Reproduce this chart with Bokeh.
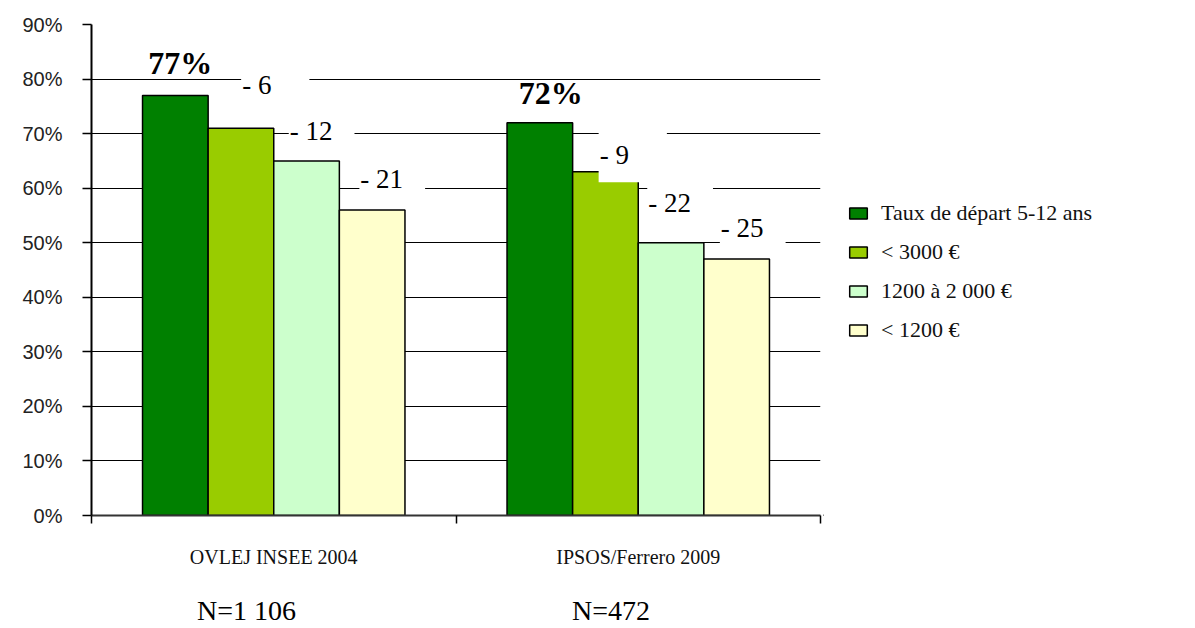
from bokeh.plotting import figure
from bokeh.layouts import row
from bokeh.models import (Range1d, FixedTicker, ColumnDataSource, Label, Legend,
                          LegendItem, PrintfTickFormatter, LinearAxis)
from bokeh.embed import file_html
from bokeh.resources import INLINE

# ---------------- data ----------------
categories = ["OVLEJ INSEE 2004", "IPSOS/Ferrero 2009"]
sample_sizes = ["N=1 106", "N=472"]
series = ["Taux de départ 5-12 ans", "< 3000 €", "1200 à 2 000 €", "< 1200 €"]
values_2004 = [77, 71, 65, 56]
values_2009 = [72, 63, 50, 47]
y_ticks = [0, 10, 20, 30, 40, 50, 60, 70, 80, 90]

# ---------------- styles ----------------
colors = ["#008000", "#99CC00", "#CCFFCC", "#FFFFCC"]
SERIF = "Liberation Serif"
SANS = "Liberation Sans"
BAR_W = 0.18
N_SHIFT = 0.075   # N labels sit a little left of the category centre
# label placement (pixels): offset from bar left edge, offset above bar top
diff_dx = [[33, 15, 20], [26, 9, 16]]
diff_dy = [[42, 28, 29], [15, 38, 30]]
head_dx = [5, 11]
head_dy = [32, 30]

H = 628
W1, W2 = 823, 372

p = figure(width=W1, height=H, output_backend="svg", toolbar_location=None,
           x_range=Range1d(0, 2), y_range=Range1d(0, 90),
           min_border_left=91, min_border_top=24, min_border_bottom=112,
           min_border_right=3, background_fill_color="white",
           border_fill_color="white", outline_line_color=None)

# y axis
p.yaxis.ticker = FixedTicker(ticks=y_ticks)
p.yaxis.formatter = PrintfTickFormatter(format="%d%%")
p.yaxis.major_label_text_font = SANS
p.yaxis.major_label_text_font_size = "20px"
p.yaxis.major_label_text_color = "#222222"
p.yaxis.major_label_standoff = 20
p.yaxis.major_tick_out = 9
p.yaxis.major_tick_in = 0
p.yaxis.minor_tick_line_color = None
p.yaxis.axis_line_width = 2
p.yaxis.major_tick_line_width = 1.5
p.yaxis.axis_line_color = "black"
p.yaxis.major_tick_line_color = "black"

# x axis: boundary ticks + category labels
p.xaxis.ticker = FixedTicker(ticks=[0.5, 1.5], minor_ticks=[0, 1, 2])
p.xaxis.major_label_overrides = {0.5: categories[0], 1.5: categories[1]}
p.xaxis.major_tick_line_color = None
p.xaxis.major_tick_out = 0
p.xaxis.major_tick_in = 0
p.xaxis.minor_tick_out = 8
p.xaxis.minor_tick_in = 0
p.xaxis.minor_tick_line_color = "black"
p.xaxis.minor_tick_line_width = 1.5
p.xaxis.axis_line_color = "#333333"
p.xaxis.axis_line_width = 2
p.xaxis.major_label_text_font = SERIF
p.xaxis.major_label_text_font_size = "20px"
p.xaxis.major_label_text_color = "#111111"
p.xaxis.major_label_standoff = 22

# second axis: sample sizes
n_ticks = [g + 0.5 - N_SHIFT for g in range(len(categories))]
n_axis = LinearAxis(ticker=FixedTicker(ticks=n_ticks),
                    major_label_overrides={t: s for t, s in zip(n_ticks, sample_sizes)},
                    axis_line_color=None, major_tick_line_color=None,
                    minor_tick_line_color=None, major_tick_out=0, major_tick_in=0,
                    major_label_standoff=24, major_label_text_font=SERIF,
                    major_label_text_font_size="28px", major_label_text_color="black")
p.add_layout(n_axis, "below")

p.xgrid.grid_line_color = None
p.ygrid.ticker = FixedTicker(ticks=y_ticks)
p.ygrid.grid_line_color = "black"
p.ygrid.grid_line_width = 1.2

# bars
groups = [values_2004, values_2009]
for i, name in enumerate(series):
    xs = [g + 0.5 + (i - 1.5) * BAR_W for g in range(len(categories))]
    tops = [vals[i] for vals in groups]
    src = ColumnDataSource(dict(x=xs, top=tops))
    p.vbar(x="x", top="top", width=BAR_W, bottom=0, source=src,
           fill_color=colors[i], line_color="black", line_width=1.5)

# value labels
for g, vals in enumerate(groups):
    base = vals[0]
    center0 = g + 0.5 - 1.5 * BAR_W
    p.add_layout(Label(x=center0, y=base, text=f"{base}%", text_align="center",
                       text_baseline="alphabetic", x_offset=head_dx[g], y_offset=head_dy[g],
                       text_font=SERIF, text_font_style="bold", text_font_size="32px",
                       text_color="black"))
    for i in range(1, len(vals)):
        left = g + 0.5 + (i - 2) * BAR_W
        txt = f"- {base - vals[i]}"
        right_pad = 38 if len(txt) == 3 else 22
        p.add_layout(Label(x=left, y=vals[i], text=txt, text_align="left",
                           text_baseline="alphabetic", x_offset=diff_dx[g][i - 1],
                           y_offset=diff_dy[g][i - 1],
                           text_font=SERIF, text_font_size="27px", text_color="black",
                           background_fill_color="white",
                           padding=dict(left=1, right=right_pad, top=9, bottom=12)))

# legend panel
q = figure(width=W2, height=H, output_backend="svg", toolbar_location=None,
           x_range=Range1d(0, 1), y_range=Range1d(0, 1),
           x_axis_location=None, y_axis_location=None,
           min_border_left=0, min_border_right=0, min_border_top=0, min_border_bottom=0,
           background_fill_color="white", border_fill_color="white",
           outline_line_color=None)
q.xgrid.grid_line_color = None
q.ygrid.grid_line_color = None
items = []
for i, name in enumerate(series):
    # off-range stand-in glyph carrying the series style for the legend
    r = q.vbar(x=[-5], top=[0], width=0.1, fill_color=colors[i], line_color="black",
               line_width=1.5)
    items.append(LegendItem(label=name, renderers=[r]))
legend = Legend(items=items, location=(24, 172), orientation="vertical",
                glyph_width=22, glyph_height=14, label_standoff=12, spacing=13,
                label_text_font=SERIF, label_text_font_size="22px",
                label_text_color="#111111",
                border_line_color=None, background_fill_alpha=0,
                padding=0, margin=0)
q.add_layout(legend)

layout = row(p, q)
open("out.html", "w").write(file_html(layout, INLINE))
